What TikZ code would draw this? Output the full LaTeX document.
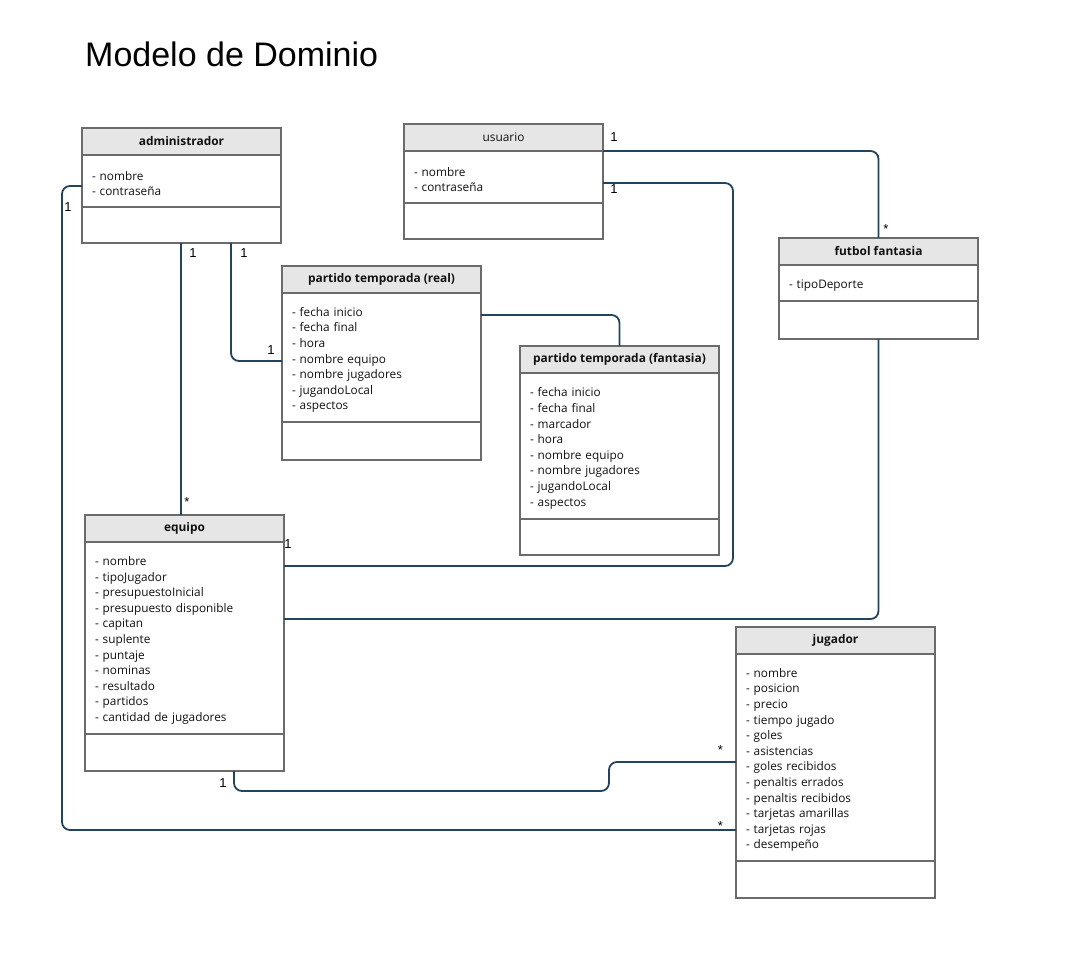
\documentclass[tikz,border=0pt]{standalone}
\usepackage{fontspec}
\setmainfont{Open Sans}
\newfontfamily\arialfont{Liberation Sans}
\usetikzlibrary{positioning,calc}
\definecolor{BoxGray}{HTML}{6B6B6B}
\definecolor{HeadGray}{HTML}{E6E6E6}
\definecolor{LinkSlate}{HTML}{23445D}
\definecolor{TextDark}{HTML}{111111}

\begin{document}
\begin{tikzpicture}[x=1pt,y=-1pt,text=TextDark,
  clshead/.style={draw=BoxGray,line width=1.3pt,fill=HeadGray,minimum width=199pt,minimum height=27pt,inner sep=0pt,outer sep=0pt,anchor=north west,font=\fontsize{11.9}{14}\selectfont},
  clsattr/.style={draw=BoxGray,line width=1.3pt,text width=179pt,inner xsep=10pt,inner ysep=3pt,outer sep=0pt,align=left,font=\fontsize{11.8}{15.6}\selectfont,execute at begin node={\rule{0pt}{14pt}}},
  clsops/.style={draw=BoxGray,line width=1.3pt,minimum width=199pt,inner sep=0pt,outer sep=0pt},
  assoc/.style={draw=LinkSlate,line width=1.8pt,rounded corners=8pt},
  mult/.style={anchor=base,inner sep=0pt,font=\arialfont\fontsize{13}{15}\selectfont,text=black}]
\useasboundingbox[fill=white] (0,0) rectangle (1076,957);
\node[anchor=base west,inner sep=0pt,font=\arialfont\fontsize{34}{40}\selectfont,text=black] (title) at (85,67) {Modelo de Dominio};

% clases
\node[clshead] (adm) at (82,128) {\bfseries administrador};
\node[clsattr,minimum height=52pt,below=0pt of adm] (admA) {- nombre\\- contraseña};
\node[clsops,minimum height=36pt,below=0pt of admA] (admO) {};

\node[clshead] (usr) at (404,124) {usuario};
\node[clsattr,minimum height=52pt,below=0pt of usr] (usrA) {- nombre\\- contraseña};
\node[clsops,minimum height=36pt,below=0pt of usrA] (usrO) {};

\node[clshead] (ff) at (779,238) {\bfseries futbol fantasia};
\node[clsattr,minimum height=36pt,below=0pt of ff] (ffA) {- tipoDeporte};
\node[clsops,minimum height=38pt,below=0pt of ffA] (ffO) {};

\node[clshead] (pr) at (282,266) {\bfseries partido temporada (real)};
\node[clsattr,minimum height=129pt,below=0pt of pr] (prA) {- fecha inicio\\- fecha final\\- hora\\- nombre equipo\\- nombre jugadores\\- jugandoLocal\\- aspectos};
\node[clsops,minimum height=38pt,below=0pt of prA] (prO) {};

\node[clshead] (pf) at (520,346) {\bfseries partido temporada (fantasia)};
\node[clsattr,minimum height=146pt,below=0pt of pf] (pfA) {- fecha inicio\\- fecha final\\- marcador\\- hora\\- nombre equipo\\- nombre jugadores\\- jugandoLocal\\- aspectos};
\node[clsops,minimum height=36pt,below=0pt of pfA] (pfO) {};

\node[clshead] (eq) at (85,515) {\bfseries equipo};
\node[clsattr,minimum height=192pt,below=0pt of eq] (eqA) {- nombre\\- tipoJugador\\- presupuestoInicial\\- presupuesto disponible\\- capitan\\- suplente\\- puntaje\\- nominas\\- resultado\\- partidos\\- cantidad de jugadores};
\node[clsops,minimum height=37pt,below=0pt of eqA] (eqO) {};

\node[clshead] (jug) at (736,627) {\bfseries jugador};
\node[clsattr,minimum height=207pt,below=0pt of jug] (jugA) {- nombre\\- posicion\\- precio\\- tiempo jugado\\- goles\\- asistencias\\- goles recibidos\\- penaltis errados\\- penaltis recibidos\\- tarjetas amarillas\\- tarjetas rojas\\- desempeño};
\node[clsops,minimum height=37pt,below=0pt of jugA] (jugO) {};

% asociaciones
\draw[assoc] (usrA.north east) -| (ff.north);
\draw[assoc] (usrA.east |- 0,183) -| (733,566) -- (eqA.east |- 0,566);
\draw[assoc] (ffO.south) |- (eqA.east |- 0,619);
\draw[assoc] (admO.south -| 181,0) -- (eq.north -| 181,0);
\draw[assoc] (admO.south -| 231,0) |- (prA.west |- 0,361);
\draw[assoc] (prA.east |- 0,315) -| (pf.north);
\draw[assoc] (admA.west |- 0,186) -| (62,830) -- (jugA.west |- 0,830);
\draw[assoc] (eqO.south -| 234,0) |- (609,791) |- (jugA.west |- 0,762);

% multiplicidades
\node[mult] (m1) at (614,142) {1};
\node[mult] (m2) at (886,233.5) {*};
\node[mult] (m3) at (614,194) {1};
\node[mult] (m4) at (288,548) {1};
\node[mult] (m5) at (193,258) {1};
\node[mult] (m6) at (187,506) {*};
\node[mult] (m7) at (244,258) {1};
\node[mult] (m8) at (271,355) {1};
\node[mult] (m9) at (68,212) {1};
\node[mult] (m10) at (720.5,830) {*};
\node[mult] (m11) at (223,787) {1};
\node[mult] (m12) at (720.5,754.5) {*};
\end{tikzpicture}
\end{document}
